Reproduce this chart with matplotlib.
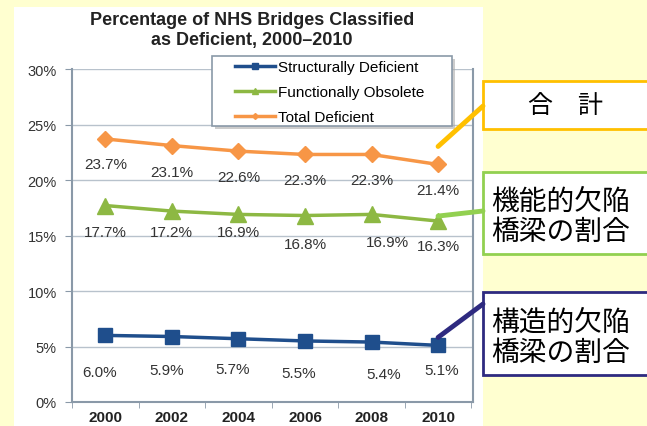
import matplotlib.pyplot as plt
from matplotlib.lines import Line2D
from matplotlib.patches import Rectangle, ConnectionPatch
from matplotlib.transforms import ScaledTranslation
import matplotlib.ticker as ticker

years = [2000, 2002, 2004, 2006, 2008, 2010]
structural = [6.0, 5.9, 5.7, 5.5, 5.4, 5.1]
functional = [17.7, 17.2, 16.9, 16.8, 16.9, 16.3]
total = [23.7, 23.1, 22.6, 22.3, 22.3, 21.4]
series_names = ['Structurally Deficient', 'Functionally Obsolete', 'Total Deficient']
callout_texts = ['合\u3000計', '機能的欠陥\n橋梁の割合', '構造的欠陥\n橋梁の割合']

navy = '#1F4E8C'
green = '#8DB843'
orange = '#F79646'

plt.rcParams['font.family'] = ['Liberation Sans', 'DejaVu Sans']

W, H = 647, 427
fig = plt.figure(figsize=(W / 100, H / 100), dpi=100)
fig.patch.set_facecolor('#FFFFD0')

def fx(px):
    return px / W

def fy(py):
    return 1 - py / H

# white panel behind the chart
fig.add_artist(Rectangle((fx(14), 0), fx(483) - fx(14), fy(8), transform=fig.transFigure,
                         facecolor='white', edgecolor='none', zorder=0))

ax = fig.add_axes([fx(72), fy(403), fx(473) - fx(72), fy(70) - fy(403)])
ax.set_facecolor('white')

ax.plot(years, structural, color=navy, lw=2.5, marker='s', ms=10, zorder=4)
ax.plot(years, functional, color=green, lw=2.5, marker='^', ms=12, zorder=4)
ax.plot(years, total, color=orange, lw=2.5, marker='D', ms=8, zorder=4)

# value labels, offsets in pixels below each point
offsets_total = [(0, 25), (0, 26), (0, 26), (0, 26), (0, 26), (0, 26)]
offsets_func = [(0, 26), (0, 21), (0, 18), (0, 28), (16, 28), (0, 25)]
offsets_struct = [(-6, 37), (-5, 33), (-6, 30), (-6, 32), (12, 32), (4, 25)]
lab_kw = dict(textcoords='offset points', ha='center', va='center', fontsize=11, color='#333333')
for vals, offs in [(total, offsets_total), (functional, offsets_func), (structural, offsets_struct)]:
    for x, v, (dx, dy) in zip(years, vals, offs):
        ax.annotate(f'{v:.1f}%', (x, v), xytext=(dx * 0.72, -dy * 0.72), **lab_kw)

ax.set_xlim(1999, 2011.05)
ax.set_ylim(0, 30)
ax.set_xticks(years)
ax.set_xticks([1999, 2001, 2003, 2005, 2007, 2009, 2011], minor=True)
ax.yaxis.set_major_locator(ticker.MultipleLocator(5))
ax.yaxis.set_major_formatter(ticker.FuncFormatter(lambda v, p: f'{v:.0f}%'))
ax.tick_params(axis='x', which='major', length=0, pad=6, labelsize=11, labelcolor='#222222')
ax.tick_params(axis='x', which='minor', length=4, color='#8A99A8')
ax.tick_params(axis='y', length=5, color='#8A99A8', labelsize=10.5, labelcolor='#333333', pad=6)
for lab in ax.get_xticklabels():
    lab.set_fontweight('bold')
ax.grid(axis='y', color='#B8C2CC', lw=1)
ax.set_axisbelow(True)
for side in ['left', 'right', 'bottom']:
    ax.spines[side].set_color('#8A99A8')
    ax.spines[side].set_linewidth(1.5)
ax.spines['top'].set_visible(False)

# legend box with a soft shadow, drawn by hand so it can be wider than its text
ax.add_patch(Rectangle((fx(215), fy(130)), fx(240), fy(57) - fy(127), transform=fig.transFigure,
                       facecolor='#AAAAAA', edgecolor='none', alpha=0.6, zorder=5, clip_on=False))
ax.add_patch(Rectangle((fx(212), fy(127)), fx(240), fy(57) - fy(127), transform=fig.transFigure,
                       facecolor='white', edgecolor='#8A99A8', lw=1.2, zorder=5.5, clip_on=False))
handles = [
    Line2D([], [], color=navy, lw=2.5, marker='s', ms=5),
    Line2D([], [], color=green, lw=2.5, marker='^', ms=5),
    Line2D([], [], color=orange, lw=2.5, marker='D', ms=3),
]
leg = ax.legend(handles, series_names, loc='upper left',
                bbox_to_anchor=((235 - 72) / 401, (403 - 61) / 333),
                fontsize=11, frameon=False, handlelength=2.6, handletextpad=0.2,
                labelspacing=0.72, borderpad=0, borderaxespad=0)
leg.set_zorder(6)

fig.text(fx(252), fy(12), 'Percentage of NHS Bridges Classified\nas Deficient, 2000\u20132010',
         ha='center', va='top', fontsize=13, fontweight='bold', color='#222222', linespacing=1.2)

# callout boxes on the right
boxes = [(82, 130, '#FFC000'), (173, 255, '#92D050'), (293, 376, '#2E2A80')]
for (top, bot, col), txt in zip(boxes, callout_texts):
    fig.add_artist(Rectangle((fx(483), fy(bot)), fx(170), fy(top) - fy(bot), transform=fig.transFigure,
                             facecolor='white', edgecolor=col, lw=2, zorder=5))
    if '\n' in txt:
        fig.text(fx(491), fy((top + bot) / 2 + 3), txt, ha='left', va='center', fontsize=20,
                 family=['Noto Sans CJK JP', 'DejaVu Sans'], linespacing=1.0, zorder=6)
    else:
        fig.text(fx(565), fy((top + bot) / 2), txt, ha='center', va='center', fontsize=18,
                 family=['Noto Sans CJK JP', 'DejaVu Sans'], zorder=6)

# connector lines from just above the 2010 points to the boxes
connectors = [(total[-1], 18, (483, 107), '#FFC000'),
              (functional[-1], 5, (483, 212), '#92D050'),
              (structural[-1], 8, (483, 305), '#2E2A80')]
for val, lift, (px, py), col in connectors:
    start = ax.transData + ScaledTranslation(0, lift / 100, fig.dpi_scale_trans)
    con = ConnectionPatch(xyA=(years[-1], val), coordsA=start,
                          xyB=(fx(px), fy(py)), coordsB=fig.transFigure,
                          color=col, lw=3.5, shrinkA=0, shrinkB=0, zorder=7)
    fig.add_artist(con)

fig.savefig('out.png', dpi=100)
